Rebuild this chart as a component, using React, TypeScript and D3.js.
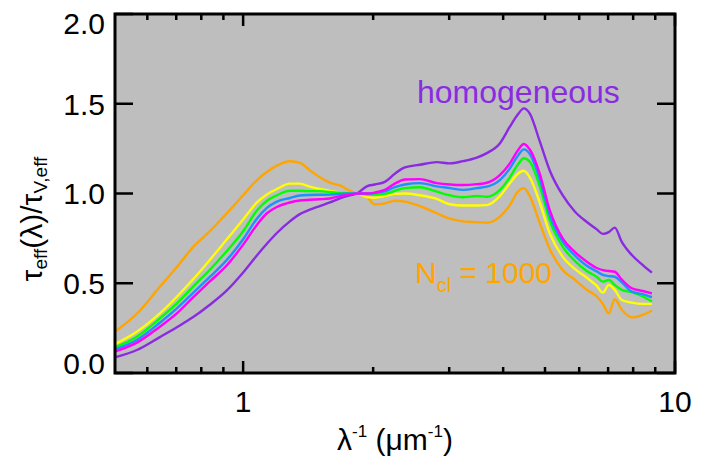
import React, { useEffect, useRef } from "react";
import * as d3 from "d3";

const lambdaInv = [0.5045,0.5674,0.6414,0.7023,0.7648,0.8373,0.9168,1.0,1.076,1.135,1.197,1.283,1.353,1.427,1.505,1.588,1.675,1.766,1.834,1.934,2.018,2.129,2.245,2.368,2.566,2.808,3.010,3.227,3.476,3.667,3.929,4.146,4.325,4.466,4.611,4.863,5.131,5.498,5.861,6.249,6.591,6.805,7.026,7.254,7.530,7.943,8.422,8.840];

const homogeneous = [0.087,0.128,0.2,0.255,0.31,0.38,0.46,0.56,0.655,0.72,0.78,0.845,0.885,0.91,0.93,0.95,0.973,0.99,1.0,1.04,1.05,1.065,1.11,1.145,1.16,1.175,1.168,1.18,1.2,1.225,1.279,1.372,1.44,1.474,1.445,1.29,1.127,0.989,0.90,0.841,0.80,0.775,0.785,0.81,0.73,0.657,0.601,0.559];
const magentaSeries = [0.119,0.169,0.258,0.332,0.42,0.51,0.60,0.715,0.825,0.89,0.925,0.95,0.961,0.965,0.968,0.972,0.985,0.995,1.0,1.0,1.005,1.02,1.055,1.078,1.08,1.058,1.05,1.047,1.052,1.06,1.103,1.168,1.24,1.276,1.245,1.11,0.906,0.749,0.675,0.62,0.585,0.573,0.568,0.564,0.52,0.472,0.457,0.444];
const blueSeries = [0.132,0.184,0.28,0.36,0.445,0.535,0.63,0.745,0.86,0.92,0.955,0.975,0.989,0.992,0.993,0.994,0.997,1.0,1.0,1.0,1.003,1.012,1.035,1.05,1.058,1.04,1.03,1.02,1.03,1.038,1.075,1.14,1.21,1.246,1.22,1.08,0.878,0.73,0.655,0.597,0.566,0.546,0.54,0.536,0.505,0.453,0.439,0.422];
const greenSeries = [0.143,0.202,0.304,0.388,0.48,0.575,0.68,0.79,0.905,0.96,0.99,1.015,1.015,1.013,1.013,1.008,1.005,1.0,1.0,0.995,0.994,0.998,1.015,1.03,1.035,1.01,0.99,0.979,0.986,0.982,1.019,1.09,1.16,1.196,1.177,1.04,0.847,0.703,0.625,0.568,0.535,0.509,0.518,0.49,0.463,0.45,0.426,0.398];
const yellowSeries = [0.161,0.23,0.332,0.425,0.52,0.63,0.745,0.855,0.95,0.995,1.025,1.055,1.055,1.038,1.025,1.015,1.005,1.0,1.0,0.98,0.976,0.985,0.998,1.0,0.99,0.97,0.94,0.933,0.933,0.935,0.985,1.057,1.11,1.127,1.09,0.95,0.777,0.647,0.58,0.531,0.485,0.448,0.49,0.463,0.407,0.392,0.385,0.385];
const ncl1000 = [0.23,0.33,0.48,0.59,0.70,0.79,0.89,0.99,1.075,1.12,1.155,1.18,1.17,1.13,1.09,1.06,1.045,1.015,1.00,0.98,0.94,0.945,0.96,0.955,0.93,0.89,0.86,0.845,0.84,0.837,0.87,0.935,1.01,1.03,0.985,0.835,0.69,0.573,0.52,0.463,0.426,0.385,0.333,0.411,0.352,0.31,0.324,0.348];

const seriesList = [
  { name: "homogeneous", values: homogeneous, color: "#8A2BE2" },
  { name: "ncl1000", values: ncl1000, color: "#FFA500" },
  { name: "yellow", values: yellowSeries, color: "#FFFF00" },
  { name: "green", values: greenSeries, color: "#00FF00" },
  { name: "blue", values: blueSeries, color: "#1E90FF" },
  { name: "magenta", values: magentaSeries, color: "#FF00FF" },
];

const yTicks = [0, 0.5, 1.0, 1.5, 2.0];
const xMajor = [1, 10];
const xMinor = [0.6, 0.7, 0.8, 0.9, 2, 3, 4, 5, 6, 7, 8, 9];

const W = 710, H = 457;
const L = 115, R = 675, T = 14, B = 373;
const FONT = "'Liberation Sans', Arial, Helvetica, sans-serif";

export default function App() {
  const ref = useRef<SVGSVGElement>(null);
  useEffect(() => {
    const svg = d3.select(ref.current);
    svg.selectAll("*").remove();
    const x = d3.scaleLog().domain([0.505, 10]).range([L, R]);
    const y = d3.scaleLinear().domain([0, 2]).range([B, T]);

    svg.append("rect").attr("x", L).attr("y", T).attr("width", R - L).attr("height", B - T).attr("fill", "#BEBEBE");

    const line = d3.line<number>().x((_, i) => x(lambdaInv[i])).y((d) => y(d)).curve(d3.curveMonotoneX);
    seriesList.forEach((s) => {
      svg.append("path").attr("d", line(s.values)).attr("fill", "none").attr("stroke", s.color).attr("stroke-width", 2.4).attr("stroke-linejoin", "round");
    });

    const g = svg.append("g").attr("stroke", "#000").attr("stroke-width", 2.5);
    yTicks.forEach((v) => {
      g.append("line").attr("x1", L).attr("x2", L + 18).attr("y1", y(v)).attr("y2", y(v));
      g.append("line").attr("x1", R).attr("x2", R - 18).attr("y1", y(v)).attr("y2", y(v));
    });
    xMajor.forEach((v) => {
      g.append("line").attr("x1", x(v)).attr("x2", x(v)).attr("y1", B).attr("y2", B - 12);
      g.append("line").attr("x1", x(v)).attr("x2", x(v)).attr("y1", T).attr("y2", T + 12);
    });
    xMinor.forEach((v) => {
      g.append("line").attr("x1", x(v)).attr("x2", x(v)).attr("y1", B).attr("y2", B - 6);
      g.append("line").attr("x1", x(v)).attr("x2", x(v)).attr("y1", T).attr("y2", T + 6);
    });
    svg.append("rect").attr("x", L).attr("y", T).attr("width", R - L).attr("height", B - T).attr("fill", "none").attr("stroke", "#000").attr("stroke-width", 3);

    const txt = svg.append("g").attr("font-family", FONT).attr("font-size", 30).attr("fill", "#000");
    yTicks.forEach((v) => {
      let yy = y(v);
      if (v === 2.0) yy += 9;
      if (v === 0) yy -= 10;
      txt.append("text").attr("x", 105).attr("y", yy).attr("dy", "0.36em").attr("text-anchor", "end").text(v.toFixed(1));
    });
    xMajor.forEach((v) => {
      txt.append("text").attr("x", x(v)).attr("y", 412).attr("text-anchor", "middle").text(String(v));
    });

    const xt = txt.append("text").attr("x", (L + R) / 2).attr("y", 450).attr("text-anchor", "middle");
    xt.append("tspan").text("λ");
    xt.append("tspan").attr("font-size", 17).attr("dy", -13).text("-1");
    xt.append("tspan").attr("dy", 13).text(" (μm");
    xt.append("tspan").attr("font-size", 17).attr("dy", -13).text("-1");
    xt.append("tspan").attr("dy", 13).text(")");

    const yt = txt.append("text").attr("transform", "translate(42,219) rotate(-90)").attr("text-anchor", "middle");
    yt.append("tspan").text("τ");
    yt.append("tspan").attr("font-size", 19).attr("dy", 5).text("eff");
    yt.append("tspan").attr("dy", -5).text("(λ)/τ");
    yt.append("tspan").attr("font-size", 19).attr("dy", 5).text("V,eff");

    txt.append("text").attr("x", 417).attr("y", 103).attr("fill", "#8A2BE2").attr("font-size", 32).text("homogeneous");
    const nt = txt.append("text").attr("x", 415).attr("y", 283).attr("fill", "#FFA500");
    nt.append("tspan").text("N");
    nt.append("tspan").attr("font-size", 20).attr("dy", 9).text("cl");
    nt.append("tspan").attr("dy", -9).text(" = 1000");
  }, []);
  return <svg ref={ref} width={W} height={H} style={{ position: "absolute", left: 0, top: 0, background: "#fff" }} />;
}
